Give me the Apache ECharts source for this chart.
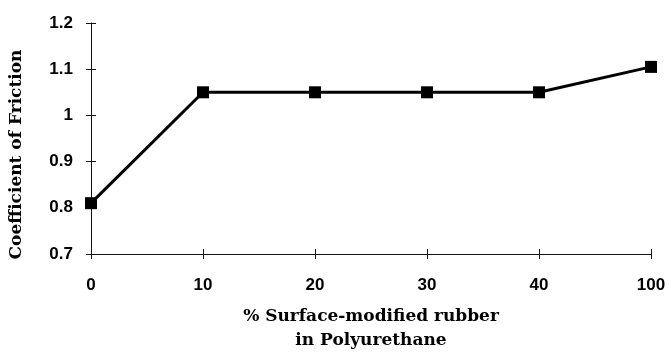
<!DOCTYPE html>
<html>
<head>
<meta charset="utf-8">
<script src="https://cdn.jsdelivr.net/npm/echarts@6/dist/echarts.min.js"></script>
<style>
    html, body { margin: 0; padding: 0; background: #fff; }
    #chart { width: 671px; height: 358px; }
</style>
</head>
<body>
<div id="chart"></div>
<script>
// 数据
var categories = ["0", "10", "20", "30", "40", "100"];
var friction = [0.81, 1.05, 1.05, 1.05, 1.05, 1.105];
var yTicks = { min: 0.7, max: 1.2, interval: 0.1 };

(function () {
    var myChart = echarts.init(document.getElementById("chart"));
    var labelFont = { color: "#000", fontSize: 17, fontWeight: "bold", fontFamily: "Liberation Sans" };
    var titleFont = { color: "#000", fontSize: 17, fontWeight: "bold", fontFamily: "DejaVu Serif" };
    var axisLine = { show: true, lineStyle: { color: "#111", width: 1 } };

    var option = {
        animation: false,
        backgroundColor: "#fff",
        grid: { left: 91, right: 20, top: 23, bottom: 101 },
        xAxis: [
            {
                type: "category",
                data: categories,
                boundaryGap: false,
                axisLine: axisLine,
                axisTick: { show: true, length: 5, lineStyle: { color: "#111" } },
                axisLabel: Object.assign({ margin: 23 }, labelFont),
                splitLine: { show: false },
                name: "% Surface-modified rubber\nin Polyurethane",
                nameLocation: "middle",
                nameGap: 51,
                nameTextStyle: Object.assign({ lineHeight: 24 }, titleFont)
            },
            {
                // 内侧刻度，做出十字刻度效果
                type: "category",
                data: categories,
                boundaryGap: false,
                position: "bottom",
                axisLine: { show: false },
                axisTick: { show: true, inside: true, length: 5, lineStyle: { color: "#111" } },
                axisLabel: { show: false }
            }
        ],
        yAxis: [
            {
                type: "value",
                min: yTicks.min,
                max: yTicks.max,
                interval: yTicks.interval,
                axisLine: axisLine,
                axisTick: { show: true, length: 5, lineStyle: { color: "#111" } },
                axisLabel: Object.assign({ margin: 18 }, labelFont),
                splitLine: { show: false },
                name: "Coefficient of Friction",
                nameLocation: "middle",
                nameGap: 66,
                nameTextStyle: Object.assign({ padding: [0, 32, 0, 0] }, titleFont)
            },
            {
                type: "value",
                min: yTicks.min,
                max: yTicks.max,
                interval: yTicks.interval,
                position: "left",
                axisLine: { show: false },
                axisTick: { show: true, inside: true, length: 5, lineStyle: { color: "#111" } },
                axisLabel: { show: false },
                splitLine: { show: false }
            }
        ],
        series: [
            {
                type: "line",
                data: friction,
                symbol: "rect",
                symbolSize: 12,
                lineStyle: { color: "#000", width: 3 },
                itemStyle: { color: "#000" }
            }
        ]
    };
    myChart.setOption(option);
})();
</script>
</body>
</html>
